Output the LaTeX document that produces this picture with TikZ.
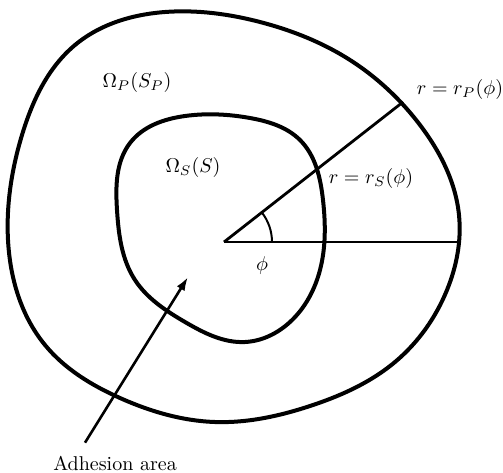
\documentclass[tikz,border=0pt]{standalone}
\usepackage{amsmath}
\usepackage{tikz}
\usetikzlibrary{arrows.meta,hobby}

\begin{document}
\begin{tikzpicture}[
  x=0.5pt,y=-0.5pt,
  bound/.style={line width=2pt,line join=round,use Hobby shortcut,closed=true},
  ray/.style={line width=1.4pt},
  arr/.style={-{Latex[length=2.4mm,width=1.6mm]},line width=1.3pt}
]
\useasboundingbox (0,0) rectangle (503,472);
% outer domain
\draw[bound] (8,240) .. (22,135) .. (75,45) .. (165,12) .. (260,22)
  .. (350,60) .. (420,125) .. (459,215) .. (447,290) .. (395,362)
  .. (310,406) .. (215,422) .. (120,398) .. (45,345);
% inner domain
\draw[bound] (117,210) .. (130,143) .. (185,116) .. (250,118) .. (300,140)
  .. (323,200) .. (320,270) .. (290,322) .. (245,342) .. (185,322)
  .. (135,280);
\coordinate (O) at (224,242);
\coordinate (P) at (403,102);
\coordinate (H) at (459,242);
\draw[ray] (O)--(H);
\draw[ray] (O)--(P);
\draw[line width=1pt] (O) ++(48,0) arc[start angle=0,end angle=-38,radius=48];
\node (phi) at (262,265) {$\phi$};
\node (omp) at (137,82) {$\Omega_P(S_P)$};
\node (oms) at (193,167) {$\Omega_S(S)$};
\node (rp) at (460,89) {$r=r_P(\phi)$};
\node (rs) at (371,178) {$r=r_S(\phi)$};
\node (adh) at (115,463) {Adhesion area};
\coordinate (tip) at (188,277);
\draw[arr] ([xshift=-15pt,yshift=3pt]adh.north) -- (tip);
\end{tikzpicture}
\end{document}
